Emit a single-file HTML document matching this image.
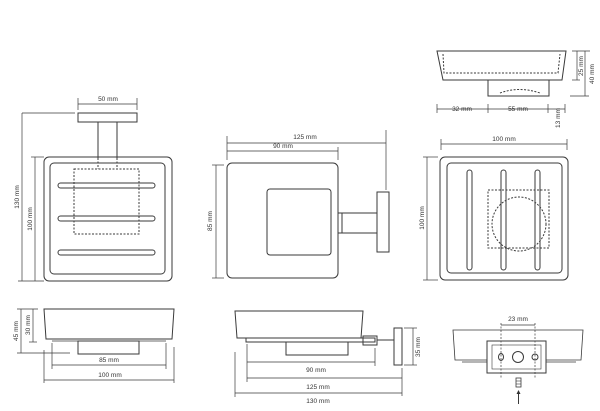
<!DOCTYPE html>
<html><head><meta charset="utf-8"><style>
html,body{margin:0;padding:0;background:#fff;}
svg{display:block;}
text{font-family:"Liberation Sans",sans-serif;font-size:6.5px;fill:#333;}
</style></head><body>
<svg width="600" height="411" viewBox="0 0 600 411" xmlns="http://www.w3.org/2000/svg">
<g fill="none" stroke="#3a3a3a" stroke-width="1">
<!-- View 1 top-left -->
<rect x="78" y="113" width="59" height="9"/>
<line x1="98" y1="122" x2="98" y2="158"/><line x1="117" y1="122" x2="117" y2="158"/>
<line x1="98" y1="158" x2="98" y2="169" stroke-dasharray="2,1.5"/><line x1="117" y1="158" x2="117" y2="169" stroke-dasharray="2,1.5"/>
<rect x="44" y="157" width="128" height="124" rx="5"/>
<rect x="50" y="163" width="115" height="111" rx="4"/>
<rect x="74" y="169" width="65" height="65" stroke-dasharray="2,1.5"/>
<rect x="58" y="183" width="97" height="5" rx="2.5"/>
<rect x="58" y="216" width="97" height="5" rx="2.5"/>
<rect x="58" y="250" width="97" height="5" rx="2.5"/>
<line x1="22" y1="113" x2="22" y2="281" stroke-width="0.7"/><line x1="22" y1="113" x2="75" y2="113" stroke-width="0.7"/><line x1="18" y1="281" x2="44" y2="281" stroke-width="0.7"/>
<line x1="35" y1="157" x2="35" y2="281" stroke-width="0.7"/><line x1="31" y1="157" x2="44" y2="157" stroke-width="0.7"/>
<line x1="78" y1="104" x2="137" y2="104" stroke-width="0.7"/><line x1="78" y1="98" x2="78" y2="110" stroke-width="0.7"/><line x1="137" y1="98" x2="137" y2="110" stroke-width="0.7"/>
<!-- View 2 -->
<rect x="227" y="163" width="111" height="115" rx="5"/>
<rect x="267" y="189" width="64" height="66" rx="3"/>
<rect x="338" y="213" width="4" height="20"/>
<line x1="342" y1="213" x2="377" y2="213"/><line x1="342" y1="233" x2="377" y2="233"/>
<rect x="377" y="192" width="12" height="60"/>
<line x1="227" y1="143" x2="386" y2="143" stroke-width="0.7"/><line x1="227" y1="136" x2="227" y2="160" stroke-width="0.7"/><line x1="386" y1="130" x2="386" y2="190" stroke-width="0.7"/>
<line x1="227" y1="151" x2="338" y2="151" stroke-width="0.7"/><line x1="338" y1="147" x2="338" y2="160" stroke-width="0.7"/>
<line x1="216" y1="165" x2="216" y2="278" stroke-width="0.7"/><line x1="212" y1="165" x2="224" y2="165" stroke-width="0.7"/><line x1="212" y1="278" x2="224" y2="278" stroke-width="0.7"/>
<!-- View 3 top -->
<path d="M437 51 L566 51 L562 80 L443 80 Z"/>
<path d="M443 54 L444 73 L558 73 L560 54" stroke-dasharray="2,1.5"/>
<rect x="488" y="80" width="61" height="16"/>
<path d="M500 93 Q519 86 540 93" stroke-dasharray="2,1.5"/>
<line x1="437" y1="109" x2="565" y2="109" stroke-width="0.7"/>
<line x1="437" y1="104" x2="437" y2="113" stroke-width="0.7"/><line x1="488" y1="104" x2="488" y2="113" stroke-width="0.7"/><line x1="548" y1="104" x2="548" y2="113" stroke-width="0.7"/><line x1="565" y1="104" x2="565" y2="113" stroke-width="0.7"/>
<line x1="577" y1="51" x2="577" y2="80" stroke-width="0.7"/><line x1="572" y1="51" x2="590" y2="51" stroke-width="0.7"/><line x1="572" y1="80" x2="580" y2="80" stroke-width="0.7"/>
<line x1="585" y1="51" x2="585" y2="96" stroke-width="0.7"/><line x1="570" y1="96" x2="589" y2="96" stroke-width="0.7"/>
<!-- View 3 main -->
<rect x="440" y="157" width="128" height="123" rx="5"/>
<rect x="447" y="163" width="115" height="110" rx="4"/>
<rect x="467" y="170" width="5" height="100" rx="2.5"/>
<rect x="501" y="170" width="5" height="100" rx="2.5"/>
<rect x="535" y="170" width="5" height="100" rx="2.5"/>
<rect x="488" y="190" width="61" height="58" stroke-dasharray="2,1.5"/>
<circle cx="519" cy="224" r="27" stroke-dasharray="2,1.5"/>
<line x1="441" y1="144" x2="567" y2="144" stroke-width="0.7"/><line x1="441" y1="139" x2="441" y2="150" stroke-width="0.7"/><line x1="567" y1="139" x2="567" y2="150" stroke-width="0.7"/>
<line x1="427" y1="157" x2="427" y2="280" stroke-width="0.7"/><line x1="423" y1="157" x2="438" y2="157" stroke-width="0.7"/><line x1="423" y1="280" x2="438" y2="280" stroke-width="0.7"/>
<!-- Bottom left -->
<path d="M44 309 L174 309 L172 339 L46 339 Z"/>
<line x1="52" y1="341" x2="166" y2="341" stroke-width="0.8"/>
<rect x="78" y="341" width="61" height="13"/>
<line x1="21" y1="309" x2="21" y2="353" stroke-width="0.7"/><line x1="17" y1="309" x2="38" y2="309" stroke-width="0.7"/><line x1="17" y1="353" x2="70" y2="353" stroke-width="0.7"/>
<line x1="33" y1="309" x2="33" y2="342" stroke-width="0.7"/><line x1="29" y1="342" x2="37" y2="342" stroke-width="0.7"/>
<line x1="52" y1="365" x2="166" y2="365" stroke-width="0.7"/><line x1="52" y1="343" x2="52" y2="369" stroke-width="0.7"/><line x1="166" y1="343" x2="166" y2="369" stroke-width="0.7"/>
<line x1="44" y1="380" x2="174" y2="380" stroke-width="0.7"/><line x1="44" y1="350" x2="44" y2="383" stroke-width="0.7"/><line x1="174" y1="347" x2="174" y2="383" stroke-width="0.7"/>
<!-- Bottom middle -->
<path d="M235 311 L363 311 L361 338 L237 338 Z"/>
<rect x="246" y="338" width="129" height="4"/>
<rect x="363" y="336" width="14" height="9"/>
<rect x="394" y="328" width="8" height="37"/>
<line x1="377" y1="340" x2="394" y2="340"/>
<rect x="286" y="342" width="62" height="13"/>
<line x1="413" y1="328" x2="413" y2="365" stroke-width="0.7"/><line x1="404" y1="328" x2="417" y2="328" stroke-width="0.7"/><line x1="404" y1="365" x2="417" y2="365" stroke-width="0.7"/>
<line x1="247" y1="362" x2="375" y2="362" stroke-width="0.7"/><line x1="247" y1="344" x2="247" y2="382" stroke-width="0.7"/><line x1="375" y1="348" x2="375" y2="366" stroke-width="0.7"/>
<line x1="247" y1="378" x2="402" y2="378" stroke-width="0.7"/><line x1="402" y1="368" x2="402" y2="396" stroke-width="0.7"/>
<line x1="235" y1="393" x2="402" y2="393" stroke-width="0.7"/><line x1="235" y1="352" x2="235" y2="397" stroke-width="0.7"/>
<!-- Bottom right -->
<path d="M453 330 L583 330 L581 360 L455 360 Z" stroke-width="0.8"/>
<line x1="462" y1="362" x2="576" y2="362" stroke-width="0.7"/>
<rect x="487" y="341" width="59" height="32" fill="#fff"/>
<rect x="492" y="345" width="49" height="24" stroke-width="0.6"/>
<line x1="501" y1="323" x2="501" y2="378" stroke-dasharray="2,1.5" stroke-width="0.7"/>
<line x1="535" y1="323" x2="535" y2="378" stroke-dasharray="2,1.5" stroke-width="0.7"/>
<line x1="501" y1="325" x2="535" y2="325" stroke-width="0.7"/>
<ellipse cx="501" cy="357" rx="2.5" ry="3.5"/>
<circle cx="518" cy="357" r="5.5"/>
<circle cx="535" cy="357" r="3"/>
<rect x="516" y="378" width="5" height="9" stroke-width="0.8"/>
<line x1="516" y1="381" x2="521" y2="381" stroke-width="0.6"/><line x1="516" y1="384" x2="521" y2="384" stroke-width="0.6"/>
<line x1="518.5" y1="392" x2="518.5" y2="404"/>
</g>
<path d="M518.5 390 L516.5 394 L520.5 394 Z" fill="#333"/>
<!-- labels -->
<text x="108" y="101" text-anchor="middle">50 mm</text>
<text transform="translate(19,197) rotate(-90)" text-anchor="middle">130 mm</text>
<text transform="translate(32,219) rotate(-90)" text-anchor="middle">100 mm</text>
<text x="305" y="139" text-anchor="middle">125 mm</text>
<text x="283" y="148" text-anchor="middle">90 mm</text>
<text transform="translate(212,221) rotate(-90)" text-anchor="middle">85 mm</text>
<text x="462" y="111" text-anchor="middle">32 mm</text>
<text x="518" y="111" text-anchor="middle">55 mm</text>
<text transform="translate(560,118) rotate(-90)" text-anchor="middle">13 mm</text>
<text transform="translate(583,66) rotate(-90)" text-anchor="middle">25 mm</text>
<text transform="translate(594,74) rotate(-90)" text-anchor="middle">40 mm</text>
<text x="504" y="141" text-anchor="middle">100 mm</text>
<text transform="translate(424,218) rotate(-90)" text-anchor="middle">100 mm</text>
<text transform="translate(18,331) rotate(-90)" text-anchor="middle">45 mm</text>
<text transform="translate(30,325) rotate(-90)" text-anchor="middle">30 mm</text>
<text x="109" y="362" text-anchor="middle">85 mm</text>
<text x="110" y="377" text-anchor="middle">100 mm</text>
<text transform="translate(420,347) rotate(-90)" text-anchor="middle">35 mm</text>
<text x="316" y="372" text-anchor="middle">90 mm</text>
<text x="318" y="389" text-anchor="middle">125 mm</text>
<text x="318" y="403" text-anchor="middle">130 mm</text>
<text x="518" y="321" text-anchor="middle">23 mm</text>
</svg>
</body></html>
